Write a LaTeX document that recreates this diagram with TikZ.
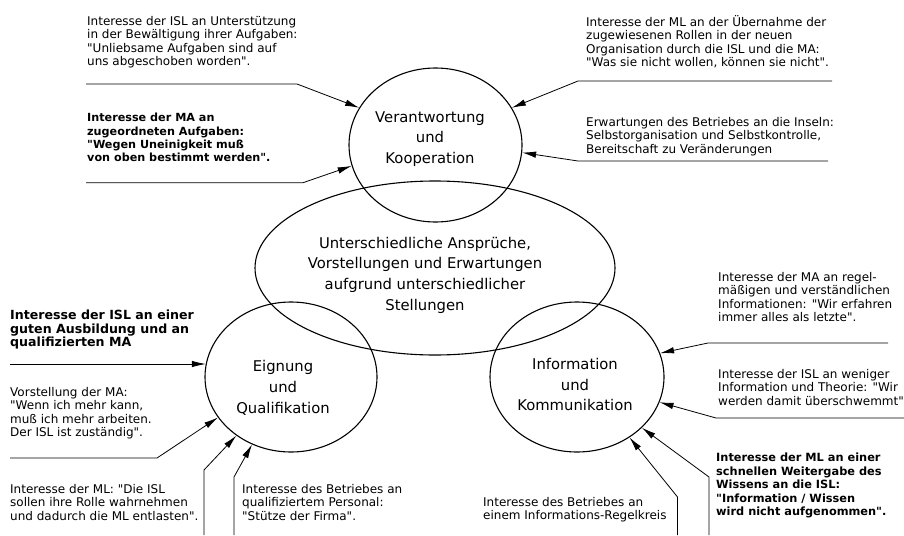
\documentclass[tikz,border=0pt]{standalone}
\usepackage{fontspec}
\setmainfont{DejaVu Sans}[Ligatures=TeXOff]
\usetikzlibrary{shapes.geometric,arrows.meta}
\tikzset{
  ell/.style={draw, ellipse, inner sep=0pt, line width=1.1pt},
  etext/.style={align=center, inner sep=0pt, font=\fontsize{14.8}{20.7}\selectfont},
  lbl/.style={anchor=north west, inner sep=0pt, align=left, font=\fontsize{12}{13.4}\selectfont, execute at begin node=\rule{0pt}{16pt}},
  lblb/.style={lbl, font=\fontsize{#1}{13.4}\selectfont\bfseries},
  arr/.style={-{Latex[length=14pt,width=6.5pt]}, line width=0.8pt},
}
\begin{document}
\begin{tikzpicture}[x=1pt,y=-1pt]
\useasboundingbox (0,0) rectangle (904,535);
% ellipses
\node[ell, minimum width=173pt, minimum height=154pt] (E1) at (435.5,145) {};
\node[ell, minimum width=360pt, minimum height=174pt] (E0) at (435,268) {};
\node[ell, minimum width=172pt, minimum height=150pt] (E2) at (291,377) {};
\node[ell, minimum width=174pt, minimum height=150pt] (E3) at (577,377) {};
% ellipse texts
\node[etext] (TE1) at (430,139) {Verantwortung\\und\\Kooperation};
\node[etext] (TE0) at (425,275) {Unterschiedliche Ansprüche,\\Vorstellungen und Erwartungen\\aufgrund unterschiedlicher\\Stellungen};
\node[etext] (TE2) at (283,388) {Eignung\\und\\Qualifikation};
\node[etext] (TE3) at (575,384.5) {Information\\und\\Kommunikation};
% labels
\node[lbl] (T1) at (87,16) {Interesse der ISL an Unterstützung\\in der Bewältigung ihrer Aufgaben:\\"Unliebsame Aufgaben sind auf\\uns abgeschoben worden".};
\node[lblb=11.2] (T2) at (87,113) {Interesse der MA an\\zugeordneten Aufgaben:\\"Wegen Uneinigkeit muß\\von oben bestimmt werden".};
\node[lbl] (T3) at (586,15.3) {Interesse der ML an der Übernahme der\\zugewiesenen Rollen in der neuen\\Organisation durch die ISL und die MA:\\"Was sie nicht wollen, können sie nicht".};
\node[lbl] (T4) at (586,117) {Erwartungen des Betriebes an die Inseln:\\Selbstorganisation und Selbstkontrolle,\\Bereitschaft zu Veränderungen};
\node[lblb=12.6] (T5) at (10,310) {Interesse der ISL an einer\\guten Ausbildung und an\\qualifizierten MA};
\node[lbl] (T6) at (10,387) {Vorstellung der MA:\\"Wenn ich mehr kann,\\muß ich mehr arbeiten.\\Der ISL ist zuständig".};
\node[lbl] (T7) at (10,484) {Interesse der ML: "Die ISL\\sollen ihre Rolle wahrnehmen\\und dadurch die ML entlasten".};
\node[lbl] (T8) at (242,484) {Interesse des Betriebes an\\qualifiziertem Personal:\\"Stütze der Firma".};
\node[lbl] (T9) at (718,272) {Interesse der MA an regel-\\mäßigen und verständlichen\\Informationen: "Wir erfahren\\immer alles als letzte".};
\node[lbl] (T10) at (718,369) {Interesse der ISL an weniger\\Information und Theorie: "Wir\\werden damit überschwemmt"};
\node[lblb=11.35] (T11) at (716,453) {Interesse der ML an einer\\schnellen Weitergabe des\\Wissens an die ISL:\\"Information / Wissen\\wird nicht aufgenommen".};
\node[lbl] (T12) at (483,497) {Interesse des Betriebes an\\einem Informations-Regelkreis};
% connector points
\coordinate (a1) at (86,84);    \coordinate (b1) at (297,84);
\coordinate (a2) at (86,182.7); \coordinate (b2) at (303,182.7);
\coordinate (a3) at (832,81);   \coordinate (b3) at (578,81);
\coordinate (a4) at (828,161);  \coordinate (b4) at (578,161);
\coordinate (a5) at (10,364);
\coordinate (a6) at (10,458);   \coordinate (b6) at (157,458);
\coordinate (a7) at (204,535);  \coordinate (b7) at (204,470);
\coordinate (a8) at (234,535);  \coordinate (b8) at (234,477);
\coordinate (a9) at (888,343);  \coordinate (b9) at (708,343);
\coordinate (a10) at (904,418); \coordinate (b10) at (716,418);
\coordinate (a11) at (709,535); \coordinate (b11) at (709,477);
\coordinate (a12) at (677.5,535); \coordinate (b12) at (677.5,497);
% connectors
\draw[arr] (a1) -- (b1) -- (E1.154.5);
\draw[arr] (a2) -- (b2) -- (E1.194.8);
\draw[arr] (a3) -- (b3) -- (E1.26.1);
\draw[arr] (a4) -- (b4) -- (E1.-5.9);
\draw[arr] (a5) -- (E2.171.4 |- a5);
\draw[arr] (a6) -- (b6) -- (E2.209.6);
\draw[arr] (a7) -- (b7) -- (E2.227.2);
\draw[arr] (a8) -- (b8) -- (E2.240.3);
\draw[arr] (a9) -- (b9) -- (E3.16.5);
\draw[arr] (a10) -- (b10) -- (E3.-17.6);
\draw[arr] (a11) -- (b11) -- (E3.-38.7);
\draw[arr] (a12) -- (b12) -- (E3.-49.8);
\end{tikzpicture}
\end{document}
